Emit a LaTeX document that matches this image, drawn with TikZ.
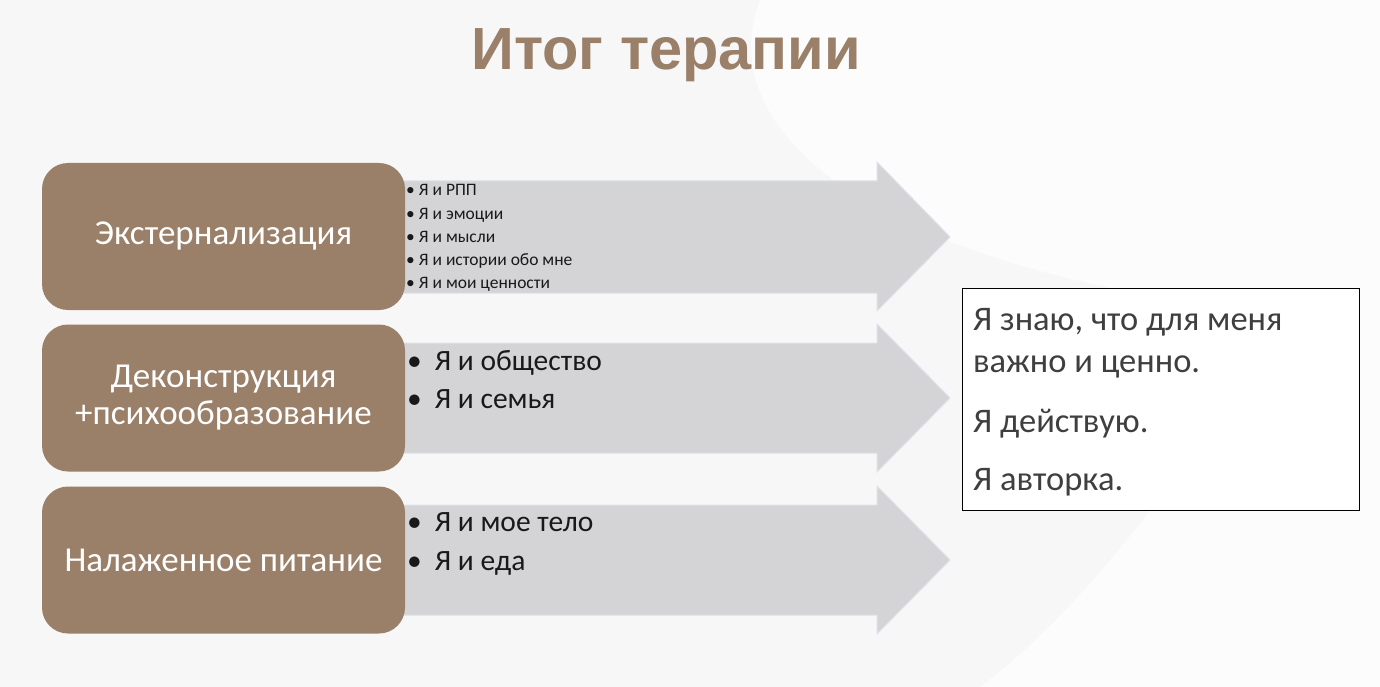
\documentclass[tikz,border=0pt]{standalone}
\usepackage{fontspec}
\setmainfont{Carlito}
\newfontfamily\titlefont{Liberation Sans}
\definecolor{bgc}{HTML}{F7F7F7}
\definecolor{brownc}{HTML}{9A7F69}
\definecolor{arrowc}{HTML}{D4D3D5}
\definecolor{arrowedge}{HTML}{DCE3EA}
\definecolor{txtc}{HTML}{3F3F3F}
\tikzset{
  stagebox/.style={fill=brownc, draw=none, rounded corners=26pt, minimum width=363pt, minimum height=147pt, text=white, align=center, font=\fontsize{35}{37}\selectfont, inner sep=0pt},
  arrowshape/.style={fill=arrowc, draw=arrowedge, line width=1pt},
  smallitem/.style={anchor=base west, inner sep=0pt, font=\fontsize{17.5}{20}\selectfont, text=black!90},
  miditem/.style={anchor=base west, inner sep=0pt, font=\fontsize{29.5}{32}\selectfont, text=black!90},
  resultline/.style={anchor=base west, inner sep=0pt, font=\fontsize{34.5}{37}\selectfont, text=txtc},
}
\begin{document}
\begin{tikzpicture}[x=1pt,y=-1pt]
\useasboundingbox (0,0) rectangle (1380,687);
\fill[bgc] (0,0) rectangle (1380,687);
\fill[white!60!bgc] (760,0) .. controls (700,160) and (950,300) .. (1380,320) -- (1380,0) -- cycle;
\fill[white!60!bgc] (980,687) .. controls (1150,560) and (1280,300) .. (1380,220) -- (1380,687) -- cycle;
% title
\node[font=\titlefont\bfseries\fontsize{59.5}{66}\selectfont, text=brownc, inner sep=0pt, anchor=base] (title) at (666,70) {Итог терапии};
% arrows
\draw[arrowshape] (380,181) -- (877,181) -- (877,162) -- (950,237) -- (877,311) -- (877,293) -- (380,293) -- cycle;
\draw[arrowshape] (380,343) -- (877,343) -- (877,324) -- (950,398) -- (877,472) -- (877,453) -- (380,453) -- cycle;
\draw[arrowshape] (380,505) -- (877,505) -- (877,486) -- (950,560) -- (877,634) -- (877,615) -- (380,615) -- cycle;
% boxes
\node[stagebox] (b1) at (223.5,236.5) {Экстернализация};
\node[stagebox] (b2) at (223.5,398) {Деконструкция\\+психообразование};
\node[stagebox] (b3) at (223.5,560) {Налаженное питание};
% lists
\node[smallitem] (s1) at (406,196) {•\hspace{4pt}Я и РПП};
\node[smallitem] (s2) at (406,219) {•\hspace{4pt}Я и эмоции};
\node[smallitem] (s3) at (406,242) {•\hspace{4pt}Я и мысли};
\node[smallitem] (s4) at (406,265) {•\hspace{4pt}Я и истории обо мне};
\node[smallitem] (s5) at (406,288) {•\hspace{4pt}Я и мои ценности};
\node[miditem] (m1) at (407,370) {•\hspace{13pt}Я и общество};
\node[miditem] (m2) at (407,408) {•\hspace{13pt}Я и семья};
\node[miditem] (m3) at (407,531) {•\hspace{13pt}Я и мое тело};
\node[miditem] (m4) at (407,570) {•\hspace{13pt}Я и еда};
% result box
\node[draw=black, fill=white, line width=1pt, minimum width=397pt, minimum height=222pt, inner sep=0pt] (res) at (1160.5,399) {};
\node[resultline] (r1) at (973,330) {Я знаю, что для меня};
\node[resultline] (r2) at (973,372) {важно и ценно.};
\node[resultline] (r3) at (973,432) {Я действую.};
\node[resultline] (r4) at (973,490) {Я авторка.};
\end{tikzpicture}
\end{document}
